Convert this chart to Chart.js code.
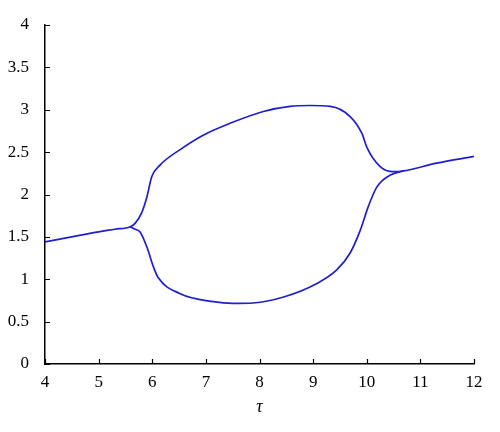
<!DOCTYPE html>
<html lang="en">
<head>
  <meta charset="UTF-8" />
  <title>tau bifurcation</title>
  <script src="https://cdn.jsdelivr.net/npm/chart.js"></script>
  <style>
    body { margin: 0; background: #fff; }
    #wrap { width: 500px; height: 432px; }
  </style>
</head>
<body>
  <div id="wrap"><canvas id="chart" width="500" height="432"></canvas></div>
  <script>
    // upper branch (incl. single-valued parts left and right)
    const upperTau = [4, 4.5, 5, 5.3, 5.59, 5.68, 5.8, 5.9, 5.99, 6.15, 6.52, 6.95, 7.45, 8.07, 8.57, 8.94, 9.32, 9.69, 9.91, 10.0, 10.25, 10.5, 10.7, 11.3, 12];
    const upperVal = [1.44, 1.50, 1.56, 1.59, 1.62, 1.66, 1.78, 1.97, 2.21, 2.35, 2.53, 2.70, 2.84, 2.98, 3.04, 3.05, 3.04, 2.92, 2.72, 2.56, 2.33, 2.27, 2.28, 2.37, 2.45];
    // lower branch
    const lowerTau = [5.59, 5.68, 5.77, 5.9, 6.02, 6.11, 6.52, 7.14, 7.5, 7.88, 8.45, 9.07, 9.44, 9.69, 9.88, 10.03, 10.19, 10.44, 10.7];
    const lowerVal = [1.62, 1.59, 1.56, 1.38, 1.15, 1.02, 0.83, 0.735, 0.715, 0.72, 0.79, 0.95, 1.11, 1.31, 1.58, 1.86, 2.09, 2.23, 2.28];

    const xTicks = [4, 5, 6, 7, 8, 9, 10, 11, 12];
    const yTicks = [0, 0.5, 1, 1.5, 2, 2.5, 3, 3.5, 4];

    const lineColor = "#1f1fd0";
    const serif = "Liberation Serif, Times New Roman, serif";
    const font = { family: serif, size: 17 };

    const toPts = (xs, ys) => xs.map((x, i) => ({ x, y: ys[i] }));

    // small inward tick marks
    const inwardTicks = {
      id: "inwardTicks",
      afterDraw(chart) {
        const { ctx, chartArea, scales } = chart;
        ctx.save();
        ctx.strokeStyle = "#000";
        ctx.lineWidth = 1.2;
        ctx.beginPath();
        xTicks.forEach(v => {
          const px = Math.round(scales.x.getPixelForValue(v)) + 0.5;
          ctx.moveTo(px, chartArea.bottom);
          ctx.lineTo(px, chartArea.bottom - 5);
        });
        yTicks.forEach(v => {
          const py = Math.round(scales.y.getPixelForValue(v)) + 0.5;
          ctx.moveTo(chartArea.left, py);
          ctx.lineTo(chartArea.left + 5, py);
        });
        ctx.stroke();
        ctx.restore();
      }
    };

    new Chart(document.getElementById("chart"), {
      type: "scatter",
      data: {
        datasets: [
          { data: toPts(upperTau, upperVal), showLine: true, borderColor: lineColor, borderWidth: 1.7, pointRadius: 0, cubicInterpolationMode: "monotone" },
          { data: toPts(lowerTau, lowerVal), showLine: true, borderColor: lineColor, borderWidth: 1.7, pointRadius: 0, cubicInterpolationMode: "monotone" }
        ]
      },
      options: {
        responsive: false,
        animation: false,
        layout: { padding: { top: 25, right: 26, left: 0, bottom: 0 } },
        plugins: { legend: { display: false }, tooltip: { enabled: false } },
        scales: {
          x: {
            type: "linear",
            min: 4, max: 12,
            afterBuildTicks: s => { s.ticks = xTicks.map(v => ({ value: v })); },
            afterFit: s => { s.height = 68; },
            border: { color: "#000", width: 1.5 },
            grid: { display: false },
            ticks: { color: "#000", font, padding: 0, maxRotation: 0, callback: v => String(v) },
            title: { display: true, text: "τ", color: "#000", font: { family: serif, size: 18, style: "italic" }, padding: { top: 2, bottom: 14 } }
          },
          y: {
            min: 0, max: 4,
            afterBuildTicks: s => { s.ticks = yTicks.map(v => ({ value: v })); },
            afterFit: s => { s.width = 45; },
            border: { color: "#000", width: 1.5 },
            grid: { display: false },
            ticks: { color: "#000", font, padding: 8, callback: v => String(v) }
          }
        }
      },
      plugins: [inwardTicks]
    });
  </script>
</body>
</html>
